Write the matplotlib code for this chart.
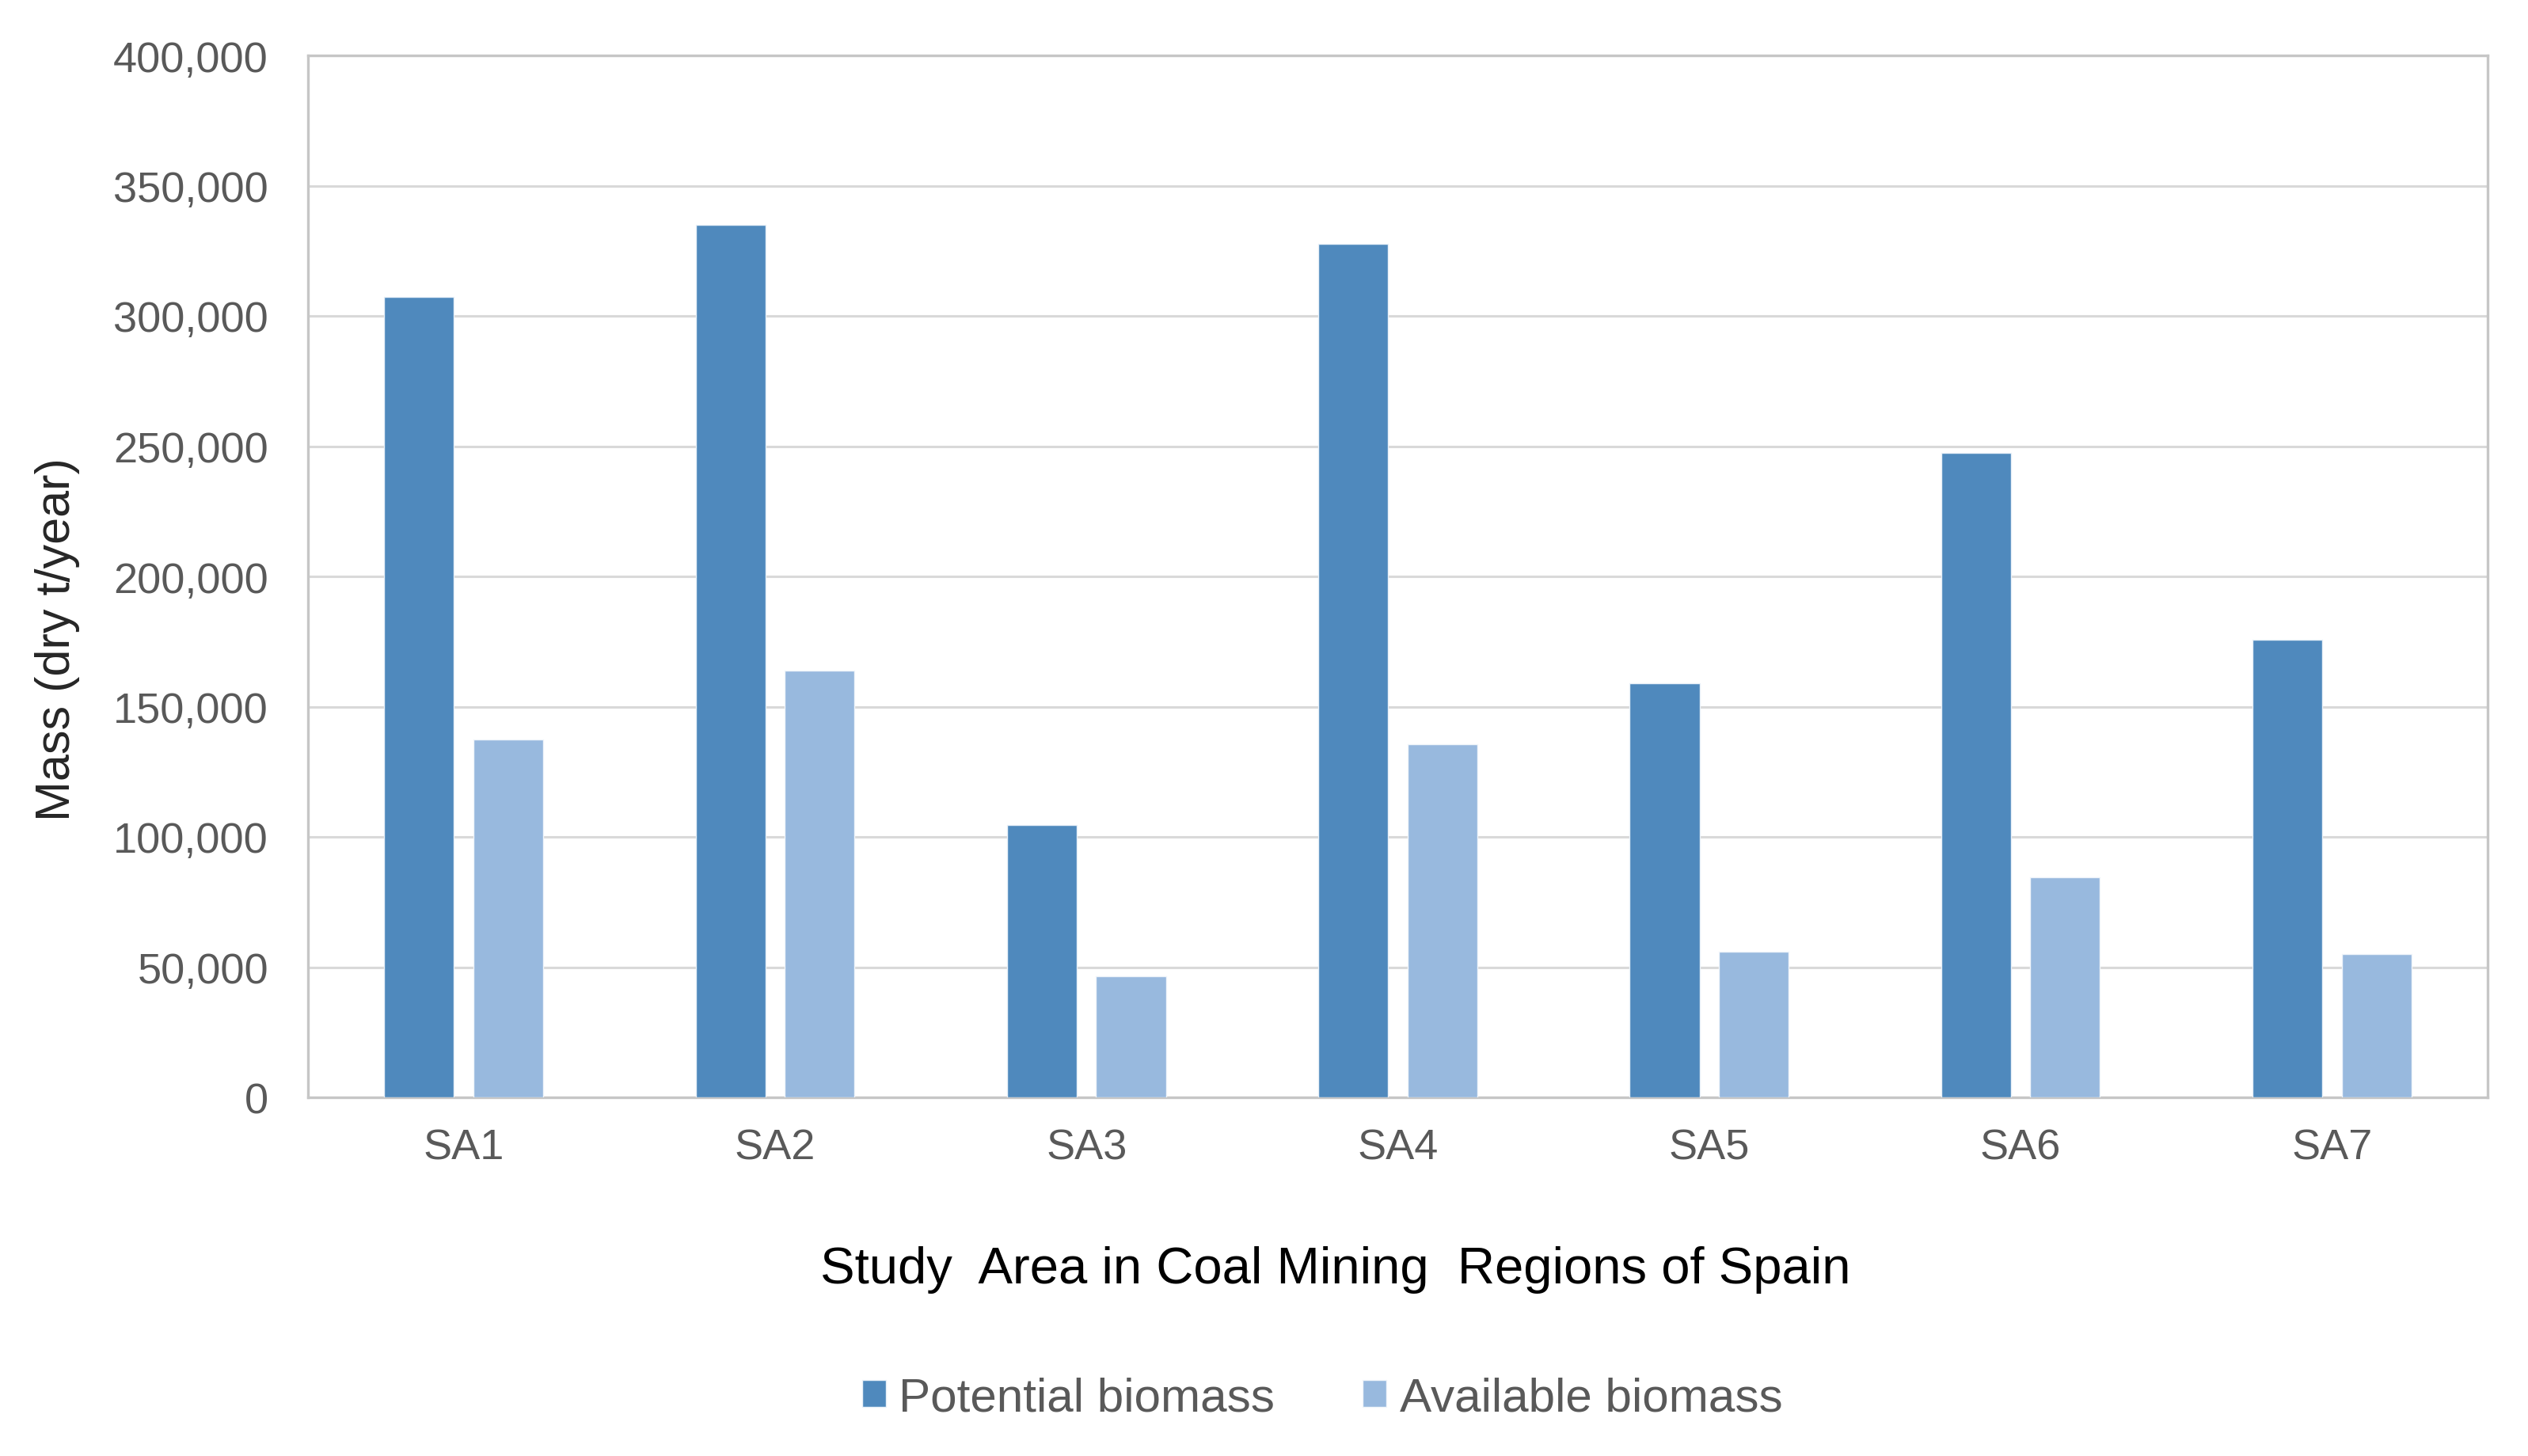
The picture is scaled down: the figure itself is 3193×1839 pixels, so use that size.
import matplotlib
matplotlib.use("Agg")
import matplotlib.pyplot as plt
import numpy as np
from matplotlib.ticker import FuncFormatter

categories = ["SA1", "SA2", "SA3", "SA4", "SA5", "SA6", "SA7"]
potential = [307400, 335000, 104600, 327800, 159100, 247400, 175600]
available = [137300, 163800, 46400, 135600, 55900, 84600, 54900]
series_names = ["Potential biomass", "Available biomass"]
yticks = [0, 50000, 100000, 150000, 200000, 250000, 300000, 350000, 400000]

plt.rcParams['font.family'] = ['Liberation Sans', 'DejaVu Sans']

W, H, DPI = 3193, 1840, 200
fig = plt.figure(figsize=(W / DPI, H / DPI), dpi=DPI)
ax = fig.add_axes([389 / W, 1 - 1387 / H, (3142 - 389) / W, (1387 - 71) / H])

x = np.arange(len(categories))
bw = 0.224
off = 0.143
c1, c2 = "#4F89BD", "#98B9DE"
b1 = ax.bar(x - off, potential, bw, color=c1, edgecolor="#E8F0F8", linewidth=0.5, label=series_names[0], zorder=3)
b2 = ax.bar(x + off, available, bw, color=c2, edgecolor="#F0F5FA", linewidth=0.5, label=series_names[1], zorder=3)

ax.set_xlim(-0.5, len(categories) - 0.5)
ax.set_ylim(0, 400000)
ax.set_yticks(yticks)
ax.yaxis.set_major_formatter(FuncFormatter(lambda v, p: f"{int(v):,}"))
ax.set_xticks(x)
ax.set_xticklabels(categories)

ax.grid(axis="y", color="#D9D9D9", linewidth=1.1, zorder=0)
ax.set_axisbelow(True)
for s in ax.spines.values():
    s.set_color("#C6C6C6")
    s.set_linewidth(1.2)

ax.tick_params(axis="both", length=0, labelsize=19.5, labelcolor="#595959")
ax.tick_params(axis="y", pad=18)
ax.tick_params(axis="x", pad=14)

ax.set_ylabel("Mass (dry t/year)", fontsize=22, color="#262626")
ax.yaxis.set_label_coords(-0.1045, 0.44)

fig.text(1687 / W, 1 - 1604 / H, "Study  Area in Coal Mining  Regions of Spain",
         fontsize=23.5, color="#000000", ha="center", va="center")

leg = fig.legend(handles=[b1, b2], labels=series_names, loc="center",
                 bbox_to_anchor=(0.523, 1 - 1767 / H), ncol=2, frameon=False,
                 fontsize=21.7, handlelength=0.5, handleheight=0.5,
                 handletextpad=0.27, columnspacing=1.85, labelcolor="#595959")

fig.savefig("out.png", dpi=DPI, facecolor="white")
